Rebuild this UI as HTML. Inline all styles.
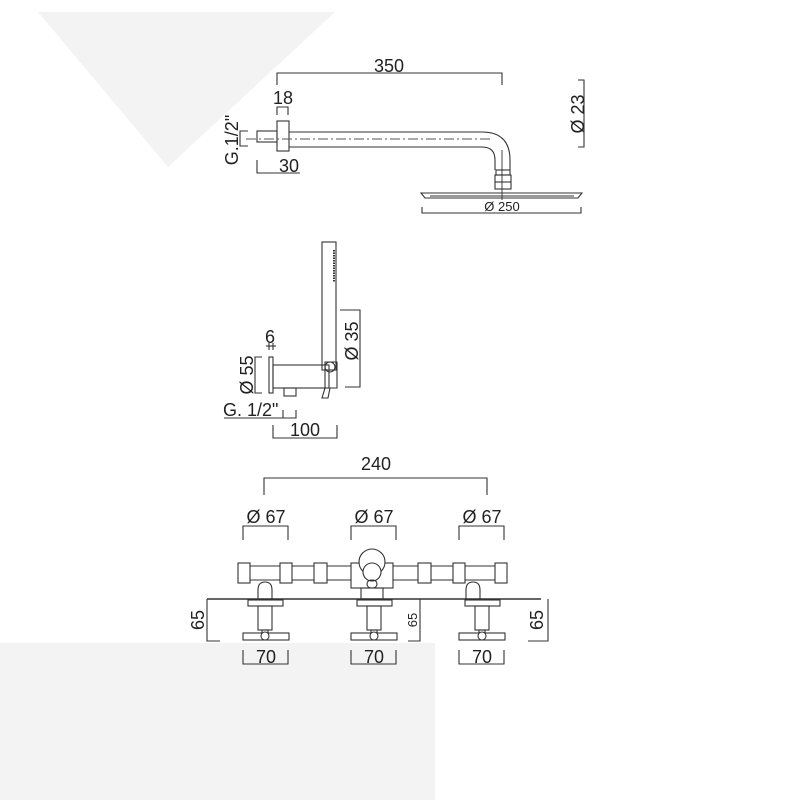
<!DOCTYPE html>
<html><head><meta charset="utf-8"><style>
html,body{margin:0;padding:0;background:#fff;width:800px;height:800px;overflow:hidden}
svg{display:block}
text{font-family:"Liberation Sans",sans-serif;fill:#222}
</style></head><body>
<svg width="800" height="800" viewBox="0 0 800 800" xmlns="http://www.w3.org/2000/svg">
<polygon points="38,12 335,12 168,167" fill="#f3f3f3"/>
<rect x="0" y="643" width="435" height="157" fill="#f3f3f3"/>
<g fill="none" stroke="#333" stroke-width="1.1">
<polyline points="277,85 277,73 502,73 502,85"/>
<polyline points="277,115 277,107 288,107 288,115"/>
<rect x="277" y="121" width="12" height="30" fill="#fff"/>
<rect x="257" y="131" width="20" height="11"/>
<path d="M289,132 L482,132 Q510,132 510,160 L510,170"/>
<path d="M289,147 L482,147 Q495,147 495,160 L495,170"/>
<line x1="246" y1="139" x2="490" y2="139" stroke-dasharray="10,3,2,3" stroke="#555"/>
<line x1="502" y1="150" x2="502" y2="200" stroke="#555"/>
<rect x="496" y="170" width="14" height="5"/>
<rect x="495" y="175" width="16" height="14"/>
<line x1="495" y1="182" x2="511" y2="182"/>
<path d="M421,193 L582,193 L578,198 L425,198 Z"/>
<line x1="430" y1="196" x2="574" y2="196"/>
<polyline points="422,207 422,213 581,213 581,207"/>
<polyline points="248,131 240,131 240,146 248,146"/>
<polyline points="257,160 257,173 300,173"/>
<polyline points="578,80 584,80 584,147 578,147"/>
<rect x="322" y="242" width="14" height="128"/>
<line x1="334" y1="250" x2="334" y2="282" stroke-width="2" stroke-dasharray="1.5,1"/>
<polyline points="340,310 360,310 360,387 345,387"/>
<rect x="269" y="357" width="4" height="36"/>
<rect x="273" y="365" width="56" height="23"/>
<rect x="284" y="388" width="12" height="8"/>
<path d="M325,362 L337,362 L337,388 L330,388 L328,398 L322,398 L325,388 Z"/>
<circle cx="330" cy="367" r="5"/>
<polyline points="262,357 255,357 255,393 262,393"/>
<line x1="269" y1="343" x2="269" y2="350"/><line x1="273" y1="343" x2="273" y2="350"/>
<line x1="266" y1="346" x2="276" y2="346"/>
<polyline points="224,418 296,418 296,410"/><line x1="283" y1="410" x2="283" y2="418"/>
<polyline points="273,425 273,438 337,438 337,425"/>
<polyline points="264,495 264,478 487,478 487,495"/>
<polyline points="243,540 243,526 288,526 288,540"/>
<polyline points="351,540 351,526 396,526 396,540"/>
<polyline points="459,540 459,526 504,526 504,540"/>
<line x1="250" y1="566" x2="495" y2="566"/>
<line x1="250" y1="580" x2="495" y2="580"/>
<rect x="238" y="563" width="12" height="20" fill="#fff"/>
<rect x="280" y="563" width="12" height="20" fill="#fff"/>
<rect x="314" y="563" width="13" height="20" fill="#fff"/>
<rect x="418" y="563" width="13" height="20" fill="#fff"/>
<rect x="453" y="563" width="12" height="20" fill="#fff"/>
<rect x="495" y="563" width="12" height="20" fill="#fff"/>
<rect x="351" y="563" width="42" height="25" fill="#fff"/>
<circle cx="372" cy="562" r="13" fill="#fff"/>
<circle cx="372" cy="572" r="9" fill="#fff"/>
<rect x="367" y="580" width="10" height="8" rx="4"/>
<path d="M258,599 L258,590 Q258,582 265,582 Q272,582 272,590 L272,599"/>
<path d="M466,599 L466,590 Q466,582 473,582 Q480,582 480,590 L480,599"/>
<rect x="361" y="588" width="22" height="11"/>
<line x1="207" y1="599" x2="541" y2="599" stroke-width="1.4"/>
<rect x="248" y="600" width="35" height="6"/><rect x="258" y="606" width="14" height="24"/><rect x="262" y="630" width="6" height="3"/>
<rect x="243" y="633" width="46" height="7"/><circle cx="265" cy="636" r="4" fill="#fff"/>
<rect x="357" y="600" width="35" height="6"/><rect x="367" y="606" width="14" height="24"/><rect x="371" y="630" width="6" height="3"/>
<rect x="351" y="633" width="46" height="7"/><circle cx="374" cy="636" r="4" fill="#fff"/>
<rect x="465" y="600" width="35" height="6"/><rect x="475" y="606" width="14" height="24"/><rect x="479" y="630" width="6" height="3"/>
<rect x="459" y="633" width="46" height="7"/><circle cx="482" cy="636" r="4" fill="#fff"/>
<polyline points="207,599 207,641 220,641"/>
<polyline points="408,641 420,641 420,599"/>
<polyline points="528,641 548,641 548,599"/>
<polyline points="243,650 243,664 288,664 288,650"/>
<polyline points="351,650 351,664 396,664 396,650"/>
<polyline points="459,650 459,664 504,664 504,650"/>
</g>
<g font-size="18">
<text x="389" y="72" text-anchor="middle">350</text>
<text x="283" y="104" text-anchor="middle">18</text>
<text x="289" y="172" text-anchor="middle">30</text>
<text x="502" y="211" text-anchor="middle" font-size="13">Ø 250</text>
<text transform="translate(238,140) rotate(-90)" text-anchor="middle">G.1/2"</text>
<text transform="translate(584,114) rotate(-90)" text-anchor="middle">Ø 23</text>
<text x="270" y="343" text-anchor="middle">6</text>
<text transform="translate(358,341) rotate(-90)" text-anchor="middle">Ø 35</text>
<text transform="translate(253,375) rotate(-90)" text-anchor="middle">Ø 55</text>
<text x="223" y="416">G. 1/2"</text>
<text x="305" y="436" text-anchor="middle">100</text>
<text x="376" y="470" text-anchor="middle">240</text>
<text x="266" y="523" text-anchor="middle">Ø 67</text>
<text x="374" y="523" text-anchor="middle">Ø 67</text>
<text x="482" y="523" text-anchor="middle">Ø 67</text>
<text transform="translate(204,620) rotate(-90)" text-anchor="middle">65</text>
<text transform="translate(417,620) rotate(-90)" text-anchor="middle" font-size="13">65</text>
<text transform="translate(543,620) rotate(-90)" text-anchor="middle">65</text>
<text x="266" y="663" text-anchor="middle">70</text>
<text x="374" y="663" text-anchor="middle">70</text>
<text x="482" y="663" text-anchor="middle">70</text>
</g>
</svg>
</body></html>
